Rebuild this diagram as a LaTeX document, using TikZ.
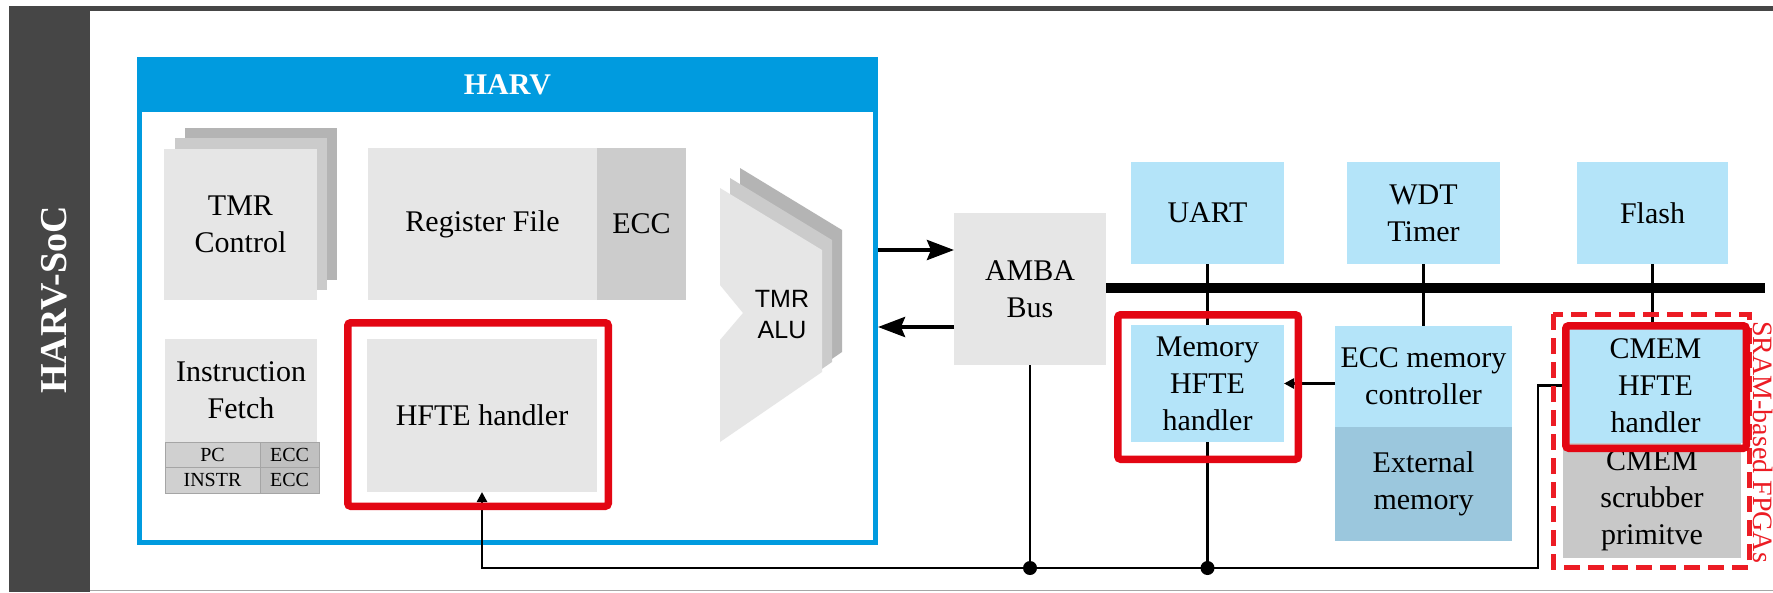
\documentclass[tikz,border=0pt]{standalone}
\usepackage{fontspec}
\setmainfont{Liberation Serif}
\newfontfamily\arialfam{Liberation Sans}
\usetikzlibrary{arrows.meta}

\definecolor{harvblue}{RGB}{0,155,223}
\definecolor{boxgray}{RGB}{230,230,230}
\definecolor{midgray}{RGB}{204,204,204}
\definecolor{stackmid}{RGB}{203,203,203}
\definecolor{stackback}{RGB}{180,180,180}
\definecolor{lblue}{RGB}{180,228,249}
\definecolor{dblue}{RGB}{155,199,221}
\definecolor{scrubgray}{RGB}{200,200,200}
\definecolor{hlred}{RGB}{227,6,19}
\definecolor{dashred}{RGB}{236,28,36}
\definecolor{framedark}{RGB}{70,70,70}
\definecolor{cellpc}{RGB}{208,208,208}
\definecolor{cellecc}{RGB}{192,192,192}
\definecolor{cellline}{RGB}{165,165,165}

\newcommand\bodyfont{\fontsize{30}{37}\selectfont}

\tikzset{
  box/.style={inner sep=0pt,outer sep=0pt,align=center,font=\bodyfont,text=black},
  sz/.style 2 args={minimum width=#1pt,minimum height=#2pt},
  greybox/.style={box,fill=boxgray},
  lbbox/.style={box,fill=lblue},
  cell/.style={box,draw=cellline,line width=1pt,font=\fontsize{20}{20}\selectfont},
  hl/.style={draw=hlred,line width=7.5pt,rounded corners=3pt},
  wire/.style={draw=black,line width=2.5pt},
  bigarr/.style={draw=black,line width=4pt,-{Stealth[length=27pt,width=20pt,inset=4pt]}},
  smallhead/.style={-{Triangle[length=10pt,width=10pt]}},
}

\begin{document}
\begin{tikzpicture}[x=1pt,y=-1pt]
\useasboundingbox (0,0) rectangle (1773,592);
\fill[white] (0,0) rectangle (1773,592);

% outer SoC frame
\fill[framedark] (9,6) rectangle (1773,11);
\fill[framedark] (9,6) rectangle (90,592);
\draw[gray!70,line width=1.5pt] (90,590.5) -- (1773,590.5);
\node[rotate=90,anchor=base,inner sep=0pt,text=white,
      font=\fontsize{38}{38}\selectfont\bfseries] (soc) at (66,300) {HARV-SoC};

% HARV processor container
\node[draw=harvblue,line width=5pt,sz={736}{483},inner sep=0pt] (harv) at (507.5,301) {};
\fill[harvblue] (137,57) rectangle (878,112);
\node[inner sep=0pt,text=white,font=\fontsize{30}{30}\selectfont\bfseries] (harvt) at (507.5,84.5) {HARV};

% TMR control (three stacked copies)
\fill[stackback] (185,128) rectangle (337,280);
\fill[stackmid] (175,138) rectangle (327,290);
\node[greybox,sz={153}{151}] (tmrc) at (240.5,224.5) {TMR\\Control};

% register file with ECC
\node[greybox,sz={229}{152}] (regf) at (482.5,224) {\raisebox{-3pt}{Register File}};
\node[box,fill=midgray,sz={89}{152},anchor=west] (regecc) at (regf.east) {ECC};

% instruction fetch with protected registers
\node[greybox,sz={152}{103}] (ifetch) at (241,390.5) {Instruction\\Fetch};
\node[cell,fill=cellpc,sz={95}{25},anchor=north west] (pc) at (165,442) {PC};
\node[cell,fill=cellecc,sz={59}{25},anchor=west] (pcecc) at (pc.east) {ECC};
\node[cell,fill=cellpc,sz={95}{26},anchor=north] (instr) at (pc.south) {INSTR};
\node[cell,fill=cellecc,sz={59}{26},anchor=west] (inecc) at (instr.east) {ECC};

% HFTE handler
\node[greybox,sz={230}{153}] (hfte) at (482,415.5) {\raisebox{-2pt}{HFTE handler}};

% TMR ALU (three stacked copies)
\fill[stackback] (740,168) -- (842,230) -- (842,352) -- (740,422) -- (740,320) -- (763,293) -- (740,265) -- cycle;
\fill[stackmid] (730,178) -- (832,240) -- (832,362) -- (730,432) -- (730,330) -- (753,303) -- (730,275) -- cycle;
\fill[boxgray] (720,188) -- (822,250) -- (822,372) -- (720,442) -- (720,340) -- (743,313) -- (720,285) -- cycle;
\node[inner sep=0pt,align=center,font=\arialfam\fontsize{25}{31}\selectfont] (alu) at (782,314.5) {TMR\\ALU};

% AMBA bus
\node[greybox,sz={152}{152}] (amba) at (1030,289) {AMBA\\Bus};
\coordinate (ya) at (0,250);
\coordinate (yb) at (0,327);
\draw[bigarr] (harv.east |- ya) -- (amba.west |- ya);
\draw[bigarr] (amba.west |- yb) -- (harv.east |- yb);
\coordinate (busend) at (1765,288);
\draw[line width=10pt] (amba.east |- busend) -- (busend);

% peripherals
\node[lbbox,sz={153}{102}] (uart) at (1207.5,213) {UART};
\node[lbbox,sz={153}{102}] (wdt) at (1423.5,213) {WDT\\Timer};
\node[lbbox,sz={151}{102}] (flash) at (1652.5,213) {Flash};
\node[lbbox,sz={153}{117}] (memh) at (1207.5,383.5) {Memory\\HFTE\\handler};
\node[lbbox,sz={177}{101}] (eccm) at (1423.5,376.5) {ECC memory\\controller};
\node[box,fill=dblue,sz={177}{114},anchor=north] (extm) at (eccm.south) {External\\memory};
\node[lbbox,sz={175}{115}] (cmemh) at (1655.5,385.5) {CMEM\\HFTE\\handler};
\node[box,fill=scrubgray,sz={178}{115}] (scrub) at (1652,500.5) {CMEM\\scrubber\\primitve};

% connections
\coordinate (corner) at (1538,568);
\coordinate (j1) at (amba.south |- corner);
\coordinate (j2) at (memh.south |- corner);
\draw[wire] (uart.south) -- (memh.north);
\draw[wire] (memh.south) -- (j2);
\draw[wire] (amba.south) -- (j1);
\draw[wire] (wdt.south) -- (eccm.north);
\draw[wire] (flash.south) -- (flash.south |- cmemh.north);
\draw[wire,smallhead] (eccm.west |- memh.east) -- (memh.east);
\draw[wire,smallhead] (cmemh.west) -| (corner) -| (hfte.south);
\fill (j1) circle (7pt);
\fill (j2) circle (7pt);

% FPGA-specific region
\draw[draw=dashred,line width=5pt,dash pattern=on 16pt off 8pt] (1553,314) rectangle (1749,567);
\node[rotate=-90,anchor=base,inner sep=0pt,text=dashred,font=\fontsize{28}{28}\selectfont] (sram) at (1753,442) {SRAM-based FPGAs};

% highlighted handlers
\draw[hl] (347.75,322.75) rectangle (608.25,506.25);
\draw[hl] (1117.75,314.75) rectangle (1298.25,459.25);
\draw[hl] (1565.75,325.75) rectangle (1746.25,448.25);
\end{tikzpicture}
\end{document}
